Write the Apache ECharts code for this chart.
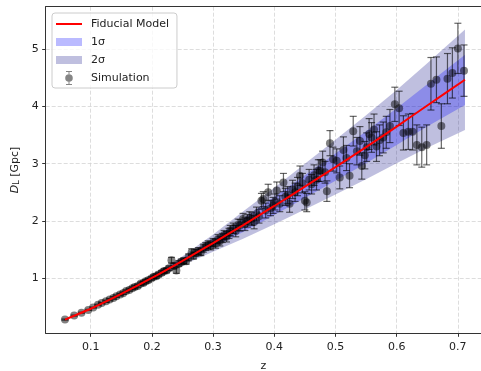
<!DOCTYPE html>
<html>
<head>
<meta charset="utf-8">
<script src="https://cdn.jsdelivr.net/npm/echarts@6/dist/echarts.min.js"></script>
<style>
  html, body { margin: 0; padding: 0; background: #fff; }
  #main { width: 481px; height: 371px; }
</style>
</head>
<body>
<div id="main"></div>
<script>
// fiducial model curve and its 1-sigma half width
const zFid = [0.058, 0.1, 0.15, 0.2, 0.25, 0.3, 0.35, 0.4, 0.45, 0.5, 0.55, 0.6, 0.65, 0.7116];
const dFid = [0.27, 0.46, 0.72, 1.00, 1.30, 1.61, 1.93, 2.26, 2.60, 2.94, 3.29, 3.65, 4.02, 4.47];
const sigFid = [0.002, 0.005, 0.012, 0.025, 0.04, 0.075, 0.12, 0.16, 0.2, 0.24, 0.28, 0.32, 0.37, 0.44];

// simulated points: redshift, distance (Gpc), error
const zSim = [
  0.058, 0.073, 0.085, 0.096, 0.104, 0.112, 0.118, 0.125, 0.131, 0.137,
  0.142, 0.148, 0.153, 0.158, 0.163, 0.168, 0.172, 0.177, 0.182, 0.186,
  0.190, 0.194, 0.199, 0.203, 0.207, 0.211, 0.216, 0.220, 0.224, 0.228,
  0.232, 0.236, 0.240, 0.244, 0.248, 0.252, 0.256, 0.260, 0.265, 0.268,
  0.272, 0.276, 0.280, 0.284, 0.288, 0.292, 0.296, 0.300, 0.304, 0.308,
  0.311, 0.315, 0.318, 0.322, 0.326, 0.328, 0.333, 0.337, 0.341, 0.344,
  0.349, 0.352, 0.356, 0.360, 0.363, 0.367, 0.371, 0.375, 0.379, 0.382,
  0.386, 0.390, 0.394, 0.398, 0.401, 0.404, 0.409, 0.415, 0.418, 0.422,
  0.425, 0.430, 0.434, 0.438, 0.442, 0.446, 0.450, 0.453, 0.457, 0.461,
  0.465, 0.469, 0.472, 0.475, 0.479, 0.483, 0.486, 0.491, 0.496, 0.502,
  0.507, 0.513, 0.518, 0.523, 0.529, 0.535, 0.540, 0.543, 0.548, 0.551,
  0.555, 0.559, 0.563, 0.567, 0.572, 0.578, 0.583, 0.589, 0.597, 0.604,
  0.611, 0.619, 0.626, 0.633, 0.641, 0.649, 0.656, 0.665, 0.673, 0.683,
  0.691, 0.700, 0.710
];
const dSim = [
  0.27, 0.34, 0.39, 0.44, 0.48, 0.53, 0.56, 0.59, 0.62, 0.65,
  0.68, 0.71, 0.73, 0.77, 0.79, 0.82, 0.84, 0.86, 0.90, 0.91,
  0.94, 0.96, 0.99, 1.02, 1.03, 1.06, 1.09, 1.12, 1.13, 1.17,
  1.31, 1.21, 1.13, 1.25, 1.28, 1.30, 1.29, 1.36, 1.45, 1.39,
  1.44, 1.47, 1.45, 1.52, 1.55, 1.58, 1.56, 1.62, 1.60, 1.68,
  1.64, 1.70, 1.75, 1.72, 1.78, 1.83, 1.87, 1.82, 1.93, 1.92,
  2.03, 1.94, 2.00, 2.05, 2.03, 1.98, 2.12, 2.08, 2.35, 2.38,
  2.18, 2.50, 2.22, 2.27, 2.33, 2.53, 2.30, 2.67, 2.42, 2.45,
  2.30, 2.55, 2.50, 2.60, 2.79, 2.66, 2.35, 2.32, 2.72, 2.64,
  2.80, 2.72, 2.88, 2.88, 3.02, 2.85, 2.52, 3.36, 3.08, 3.05,
  2.76, 3.24, 3.10, 2.79, 3.57, 3.22, 3.40, 2.96, 3.15, 3.29,
  3.52, 3.46, 3.60, 3.30, 3.41, 3.46, 3.55, 3.66, 4.04, 3.97,
  3.54, 3.56, 3.56, 3.33, 3.29, 3.33, 4.40, 4.47, 3.66, 4.49,
  4.59, 5.02, 4.63
];
const eSim = [
  0.01, 0.01, 0.01, 0.01, 0.01, 0.01, 0.01, 0.02, 0.02, 0.02,
  0.02, 0.02, 0.02, 0.02, 0.02, 0.02, 0.03, 0.03, 0.03, 0.03,
  0.03, 0.03, 0.03, 0.03, 0.04, 0.04, 0.04, 0.04, 0.04, 0.04,
  0.05, 0.05, 0.05, 0.05, 0.05, 0.05, 0.05, 0.06, 0.06, 0.06,
  0.06, 0.06, 0.06, 0.07, 0.07, 0.07, 0.07, 0.07, 0.08, 0.08,
  0.08, 0.08, 0.08, 0.09, 0.09, 0.09, 0.09, 0.10, 0.10, 0.10,
  0.10, 0.11, 0.11, 0.11, 0.11, 0.12, 0.12, 0.12, 0.13, 0.13,
  0.13, 0.14, 0.13, 0.14, 0.14, 0.15, 0.14, 0.16, 0.15, 0.15,
  0.15, 0.16, 0.16, 0.16, 0.17, 0.17, 0.16, 0.16, 0.18, 0.17,
  0.18, 0.18, 0.19, 0.19, 0.20, 0.19, 0.18, 0.22, 0.21, 0.21,
  0.20, 0.23, 0.22, 0.21, 0.26, 0.24, 0.25, 0.23, 0.24, 0.25,
  0.27, 0.26, 0.27, 0.26, 0.27, 0.27, 0.28, 0.29, 0.30, 0.30,
  0.30, 0.31, 0.32, 0.35, 0.35, 0.35, 0.46, 0.40, 0.39, 0.44,
  0.44, 0.44, 0.45
];

const FONT = 'DejaVu Sans';
const c1 = 'rgba(0,0,255,0.27)';
const c2 = 'rgba(0,0,128,0.25)';
const ptColor = 'rgba(0,0,0,0.62)';
// tiny corner dots keep every legend icon in the same 26x14 box
const corners = 'M0,0h0.01v0.01h-0.01Z M25.99,13.99h0.01v0.01h-0.01Z ';

let chart = echarts.init(document.getElementById('main'), null, { renderer: 'canvas' });

function band(name, k, color, z) {
    return {
        name: name,
        type: 'custom',
        z: z,
        silent: true,
        itemStyle: { color: color },
        data: [0],
        renderItem: function (params, api) {
            let up = zFid.map((x, i) => api.coord([x, dFid[i] + k * sigFid[i]]));
            let lo = zFid.map((x, i) => api.coord([x, dFid[i] - k * sigFid[i]])).reverse();
            return {
                type: 'polygon',
                shape: { points: up.concat(lo) },
                style: { fill: color }
            };
        }
    };
}

const axisCol = '#333';
const gridLine = { show: true, lineStyle: { color: '#d4d4d4', type: [4, 2], width: 0.8 } };

let option = {
    animation: false,
    grid: { left: 45.7, right: 0, top: 6.7, bottom: 37.7, outerBoundsMode: 'none', containLabel: false },
    legend: {
        orient: 'vertical',
        left: 52, top: 13,
        padding: [4, 8, 3, 4],
        itemWidth: 26, itemHeight: 14, itemGap: 4,
        backgroundColor: 'rgba(255,255,255,0.8)',
        borderColor: '#cccccc', borderWidth: 1, borderRadius: 3,
        textStyle: { fontFamily: FONT, fontSize: 11, color: '#222', padding: [0, 0, 0, 4] },
        data: [
            { name: 'Fiducial Model', icon: 'path://' + corners + 'M0,6.1H26V7.9H0Z', itemStyle: { color: '#ff0000' } },
            { name: '1σ', icon: 'path://' + corners + 'M0,3H26V11H0Z', itemStyle: { color: c1 } },
            { name: '2σ', icon: 'path://' + corners + 'M0,3H26V11H0Z', itemStyle: { color: c2 } },
            {
                name: 'Simulation',
                icon: 'path://' + corners + 'M10,0H16V1H10Z M10,13H16V14H10Z M12.5,0H13.5V14H12.5Z M13,3.2A3.8,3.8 0 1 1 12.99,3.2Z',
                itemStyle: { color: 'rgba(0,0,0,0.6)' }
            }
        ]
    },
    xAxis: [{
        type: 'value',
        min: 0.0265, max: 0.7378,
        splitNumber: 7,
        name: 'z', nameLocation: 'middle', nameGap: 27,
        nameTextStyle: { fontFamily: FONT, fontSize: 11, color: '#222' },
        axisLine: { show: true, onZero: false, lineStyle: { color: axisCol, width: 1 } },
        axisTick: { show: true, length: 3.5, lineStyle: { color: axisCol } },
        axisLabel: { fontFamily: FONT, fontSize: 11, color: '#222', margin: 8, showMinLabel: false, showMaxLabel: false },
        splitLine: gridLine
    }, {
        type: 'value',
        position: 'top',
        min: 0.0265, max: 0.7378,
        axisLine: { show: true, onZero: false, lineStyle: { color: axisCol, width: 1 } },
        axisTick: { show: false },
        axisLabel: { show: false },
        splitLine: { show: false }
    }],
    yAxis: {
        type: 'value',
        min: 0.03, max: 5.75,
        splitNumber: 5,
        name: '{i|D}{s|L} [Gpc]', nameLocation: 'middle', nameGap: 17, nameRotate: 90,
        nameTextStyle: {
            fontFamily: FONT, fontSize: 11, color: '#222',
            rich: {
                i: { fontFamily: FONT, fontSize: 11, fontStyle: 'italic', color: '#222' },
                s: { fontFamily: FONT, fontSize: 8, color: '#222', verticalAlign: 'bottom', padding: [4, 0, 0, 0] }
            }
        },
        axisLine: { show: true, onZero: false, lineStyle: { color: axisCol, width: 1 } },
        axisTick: { show: true, length: 3.5, lineStyle: { color: axisCol } },
        axisLabel: { fontFamily: FONT, fontSize: 11, color: '#222', margin: 7, showMinLabel: false, showMaxLabel: false },
        splitLine: gridLine
    },
    series: [
        band('2σ', 2, c2, 1),
        band('1σ', 1, c1, 2),
        {
            name: 'Simulation err',
            type: 'custom',
            z: 3,
            silent: true,
            data: zSim.map((x, i) => [x, dSim[i], eSim[i]]),
            encode: { x: 0, y: 1 },
            renderItem: function (params, api) {
                let x = api.value(0), y = api.value(1), e = api.value(2);
                let top = api.coord([x, y + e]);
                let bot = api.coord([x, y - e]);
                let cap = 3.5;
                let st = { stroke: 'rgba(0,0,0,0.6)', lineWidth: 1.2 };
                return {
                    type: 'group',
                    children: [
                        { type: 'line', shape: { x1: top[0], y1: top[1], x2: bot[0], y2: bot[1] }, style: st },
                        { type: 'line', shape: { x1: top[0] - cap, y1: top[1], x2: top[0] + cap, y2: top[1] }, style: st },
                        { type: 'line', shape: { x1: bot[0] - cap, y1: bot[1], x2: bot[0] + cap, y2: bot[1] }, style: st }
                    ]
                };
            }
        },
        {
            name: 'Simulation',
            type: 'scatter',
            z: 4,
            symbol: 'circle',
            symbolSize: 8,
            itemStyle: { color: ptColor },
            data: zSim.map((x, i) => [x, dSim[i]])
        },
        {
            name: 'Fiducial Model',
            type: 'line',
            z: 5,
            symbol: 'none',
            smooth: 0.2,
            lineStyle: { color: '#ff0000', width: 2 },
            itemStyle: { color: '#ff0000' },
            data: zFid.map((x, i) => [x, dFid[i]])
        }
    ]
};

option && chart.setOption(option);
</script>
</body>
</html>
